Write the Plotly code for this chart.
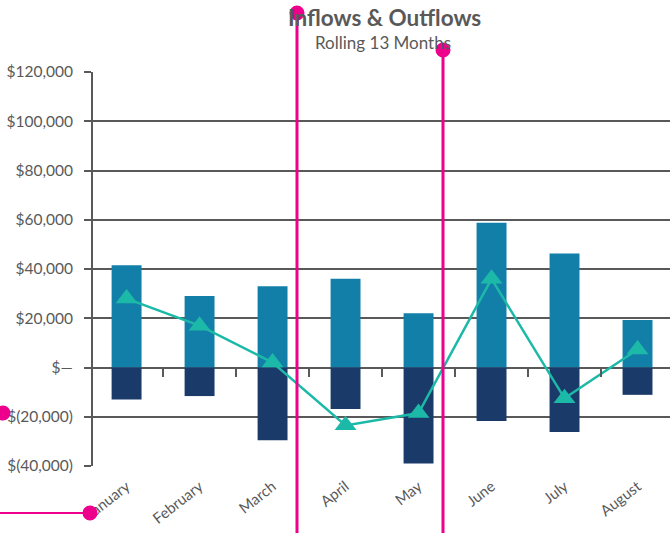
import plotly.graph_objects as go

months = ["January", "February", "March", "April", "May", "June", "July", "August"]
inflows = [41500, 29000, 33000, 36000, 22000, 58800, 46300, 19300]
outflows = [-13000, -11600, -29500, -16900, -39000, -21700, -26200, -11100]
net_line = [28000, 17000, 2000, -23500, -18500, 36000, -12500, 7300]

y_tickvals = [-40000, -20000, 0, 20000, 40000, 60000, 80000, 100000, 120000]
y_ticktext = ["$(40,000)", "$(20,000)", "$\u2014", "$20,000", "$40,000",
              "$60,000", "$80,000", "$100,000", "$120,000"]

GREY = "#595959"
MAGENTA = "#EC008C"
FONT = "Lato"

# plot area in pixels: x 93..670, y 72..466
def px(x):
    return (x - 93) / 577


def py(y):
    return (466 - y) / 394


fig = go.Figure()

fig.add_trace(
    go.Bar(x=months, y=inflows, name="Inflows", marker_color="#127FA8",
           marker_line_width=0, width=0.41)
)
fig.add_trace(
    go.Bar(x=months, y=outflows, name="Outflows", marker_color="#1A3A6A",
           marker_line_width=0, width=0.41)
)
fig.add_trace(
    go.Scatter(x=months, y=net_line, mode="lines+markers", name="Net",
               line=dict(color="#1DB9A8", width=2.5),
               marker=dict(symbol="triangle-up", size=19, color="#1DB9A8"))
)
# helper trace so the zero-line tick marks get drawn
fig.add_trace(
    go.Scatter(x=months, y=[0] * len(months), mode="markers", xaxis="x2",
               marker=dict(opacity=0), hoverinfo="skip", showlegend=False)
)

shapes = [
    dict(type="line", xref="paper", yref="paper", x0=px(297), x1=px(297),
         y0=py(13), y1=py(540), line=dict(color=MAGENTA, width=3)),
    dict(type="line", xref="paper", yref="paper", x0=px(443), x1=px(443),
         y0=py(50), y1=py(540), line=dict(color=MAGENTA, width=3)),
    dict(type="line", xref="paper", yref="paper", x0=px(-5), x1=px(90),
         y0=py(513), y1=py(513), line=dict(color=MAGENTA, width=2)),
]
for cx, cy in [(297, 13), (443, 50), (90, 513), (3, 413)]:
    shapes.append(
        dict(type="circle", xref="paper", yref="paper",
             x0=px(cx - 7.5), x1=px(cx + 7.5), y0=py(cy + 7.5), y1=py(cy - 7.5),
             fillcolor=MAGENTA, line=dict(width=0))
    )

fig.update_layout(
    width=670,
    height=533,
    margin=dict(l=93, r=0, t=72, b=67),
    plot_bgcolor="white",
    paper_bgcolor="white",
    barmode="relative",
    showlegend=False,
    font=dict(family=FONT, color=GREY, size=15),
    xaxis=dict(
        range=[-0.46, 7.445],
        showgrid=False,
        showline=False,
        ticks="",
        tickangle=-38,
        ticklabelstandoff=8,
        tickfont=dict(size=15, color=GREY),
    ),
    xaxis2=dict(
        overlaying="x",
        anchor="free",
        position=0.25,
        range=[-0.46, 7.445],
        showgrid=False,
        showline=False,
        showticklabels=False,
        ticks="outside",
        tickson="boundaries",
        ticklen=8,
        tickwidth=2,
        tickcolor=GREY,
    ),
    yaxis=dict(
        range=[-40000, 120000],
        tickvals=y_tickvals,
        ticktext=y_ticktext,
        showgrid=True,
        gridcolor=GREY,
        gridwidth=2,
        zeroline=True,
        zerolinecolor=GREY,
        zerolinewidth=2,
        showline=True,
        linecolor=GREY,
        linewidth=2,
        ticks="outside",
        ticklen=7,
        tickwidth=2,
        tickcolor=GREY,
        ticklabelstandoff=8,
        tickfont=dict(size=15.5, color=GREY),
    ),
    shapes=shapes,
    annotations=[
        dict(text="<b>Inflows & Outflows</b>", xref="paper", yref="paper",
             x=px(385), y=py(18), yanchor="middle", showarrow=False,
             font=dict(size=22.5, color=GREY, family=FONT)),
        dict(text="Rolling 13 Months", xref="paper", yref="paper",
             x=px(383), y=py(43), yanchor="middle", showarrow=False,
             font=dict(size=17, color=GREY, family=FONT)),
    ],
)

# the page's default body margin would shift the chart by 8px
fig.write_html(
    "out.html",
    config={"displayModeBar": False},
    post_script="document.body.style.margin = '0';",
)
